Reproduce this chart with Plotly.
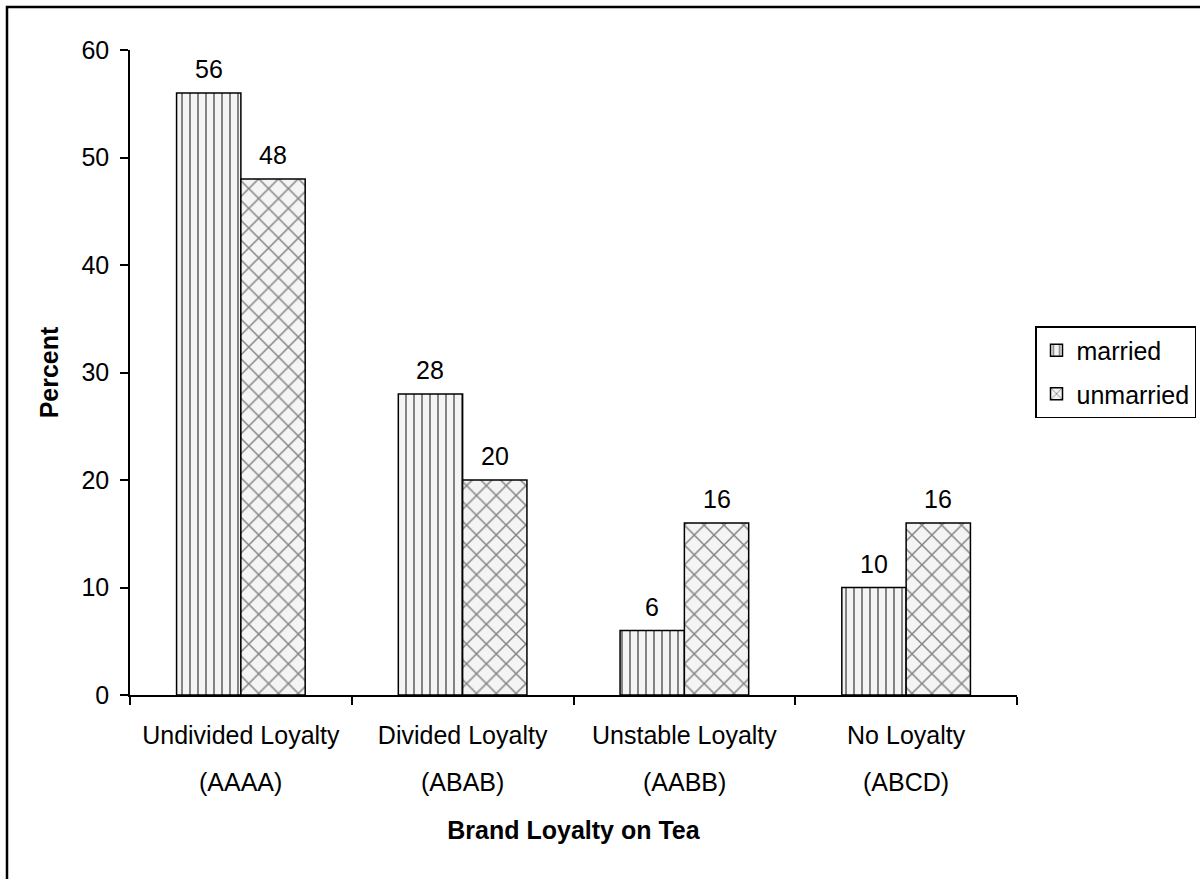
import plotly.graph_objects as go

# Brand loyalty on tea, by marital status (percent of respondents)
categories = ["Undivided Loyalty", "Divided Loyalty", "Unstable Loyalty", "No Loyalty"]
codes = ["(AAAA)", "(ABAB)", "(AABB)", "(ABCD)"]
married = [56, 28, 6, 10]
unmarried = [48, 20, 16, 16]
y_ticks = [0, 10, 20, 30, 40, 50, 60]

FONT = "Liberation Sans, Arial, sans-serif"
FS = 25
W, H = 1200, 879
L, R, T, B = 130, 183, 50, 184
plot_w, plot_h = W - L - R, H - T - B


def px_x(px):
    return (px - L) / plot_w


def px_y(py):
    return (H - B - py) / plot_h


fig = go.Figure()
fig.add_trace(go.Bar(
    name="married", x=categories, y=married, legendgroup="m",
    marker=dict(color="#f3f3f3", line=dict(color="black", width=1.5),
                pattern=dict(shape="|", size=8, solidity=0.25,
                             fgcolor="#111111", bgcolor="#f4f4f4")),
))
fig.add_trace(go.Bar(
    name="unmarried", x=categories, y=unmarried, legendgroup="u",
    marker=dict(color="#f3f3f3", line=dict(color="black", width=1.5),
                pattern=dict(shape="x", size=14, solidity=0.2,
                             fgcolor="#111111", bgcolor="#f4f4f4")),
))

annotations = []
# value labels above each bar
for i, (m, u) in enumerate(zip(married, unmarried)):
    for val, off in ((m, -0.145), (u, 0.145)):
        annotations.append(dict(
            x=i + off, y=val, xref="x", yref="y", text=str(val),
            showarrow=False, yanchor="bottom", yshift=8,
            font=dict(family=FONT, size=FS, color="black"),
        ))
# second line of each category label
for cat, code in zip(categories, codes):
    annotations.append(dict(
        x=cat, y=0, xref="x", yref="paper", text=code, showarrow=False,
        yanchor="middle", yshift=-87,
        font=dict(family=FONT, size=FS, color="black"),
    ))

fig.update_layout(
    width=W, height=H,
    margin=dict(l=L, r=R, t=T, b=B, autoexpand=False),
    paper_bgcolor="white", plot_bgcolor="white",
    barmode="group", bargap=0.42, bargroupgap=0,
    font=dict(family=FONT, size=FS, color="black"),
    showlegend=True,
    legend=dict(
        x=px_x(1035), y=px_y(326), xanchor="left", yanchor="top",
        bordercolor="black", borderwidth=1.5, bgcolor="white",
        font=dict(family=FONT, size=FS, color="black"),
        tracegroupgap=8, itemclick=False,
    ),
    xaxis=dict(
        type="category", tickson="boundaries", ticks="outside", ticklen=8,
        tickwidth=1.5, tickcolor="black", showline=True, linecolor="black",
        linewidth=1.5, showgrid=False, ticklabelstandoff=17,
        tickfont=dict(family=FONT, size=FS),
        title=dict(text="<b>Brand Loyalty on Tea</b>", standoff=74,
                   font=dict(family=FONT, size=FS)),
        range=[-0.5, 3.5],
    ),
    yaxis=dict(
        range=[0, 60], tickvals=y_ticks, ticks="outside", ticklen=8,
        tickwidth=1.5, tickcolor="black", showline=True, linecolor="black",
        linewidth=1.5, showgrid=False, zeroline=False, ticklabelstandoff=6,
        tickfont=dict(family=FONT, size=FS),
        title=dict(text="<b>Percent</b>", standoff=16,
                   font=dict(family=FONT, size=FS)),
    ),
    annotations=annotations,
    shapes=[dict(
        type="rect", xref="paper", yref="paper",
        x0=px_x(7), x1=px_x(1215), y0=px_y(900), y1=px_y(7),
        line=dict(color="black", width=2.5), fillcolor="rgba(0,0,0,0)",
        layer="above",
    )],
)

fig.write_html("out.html")
